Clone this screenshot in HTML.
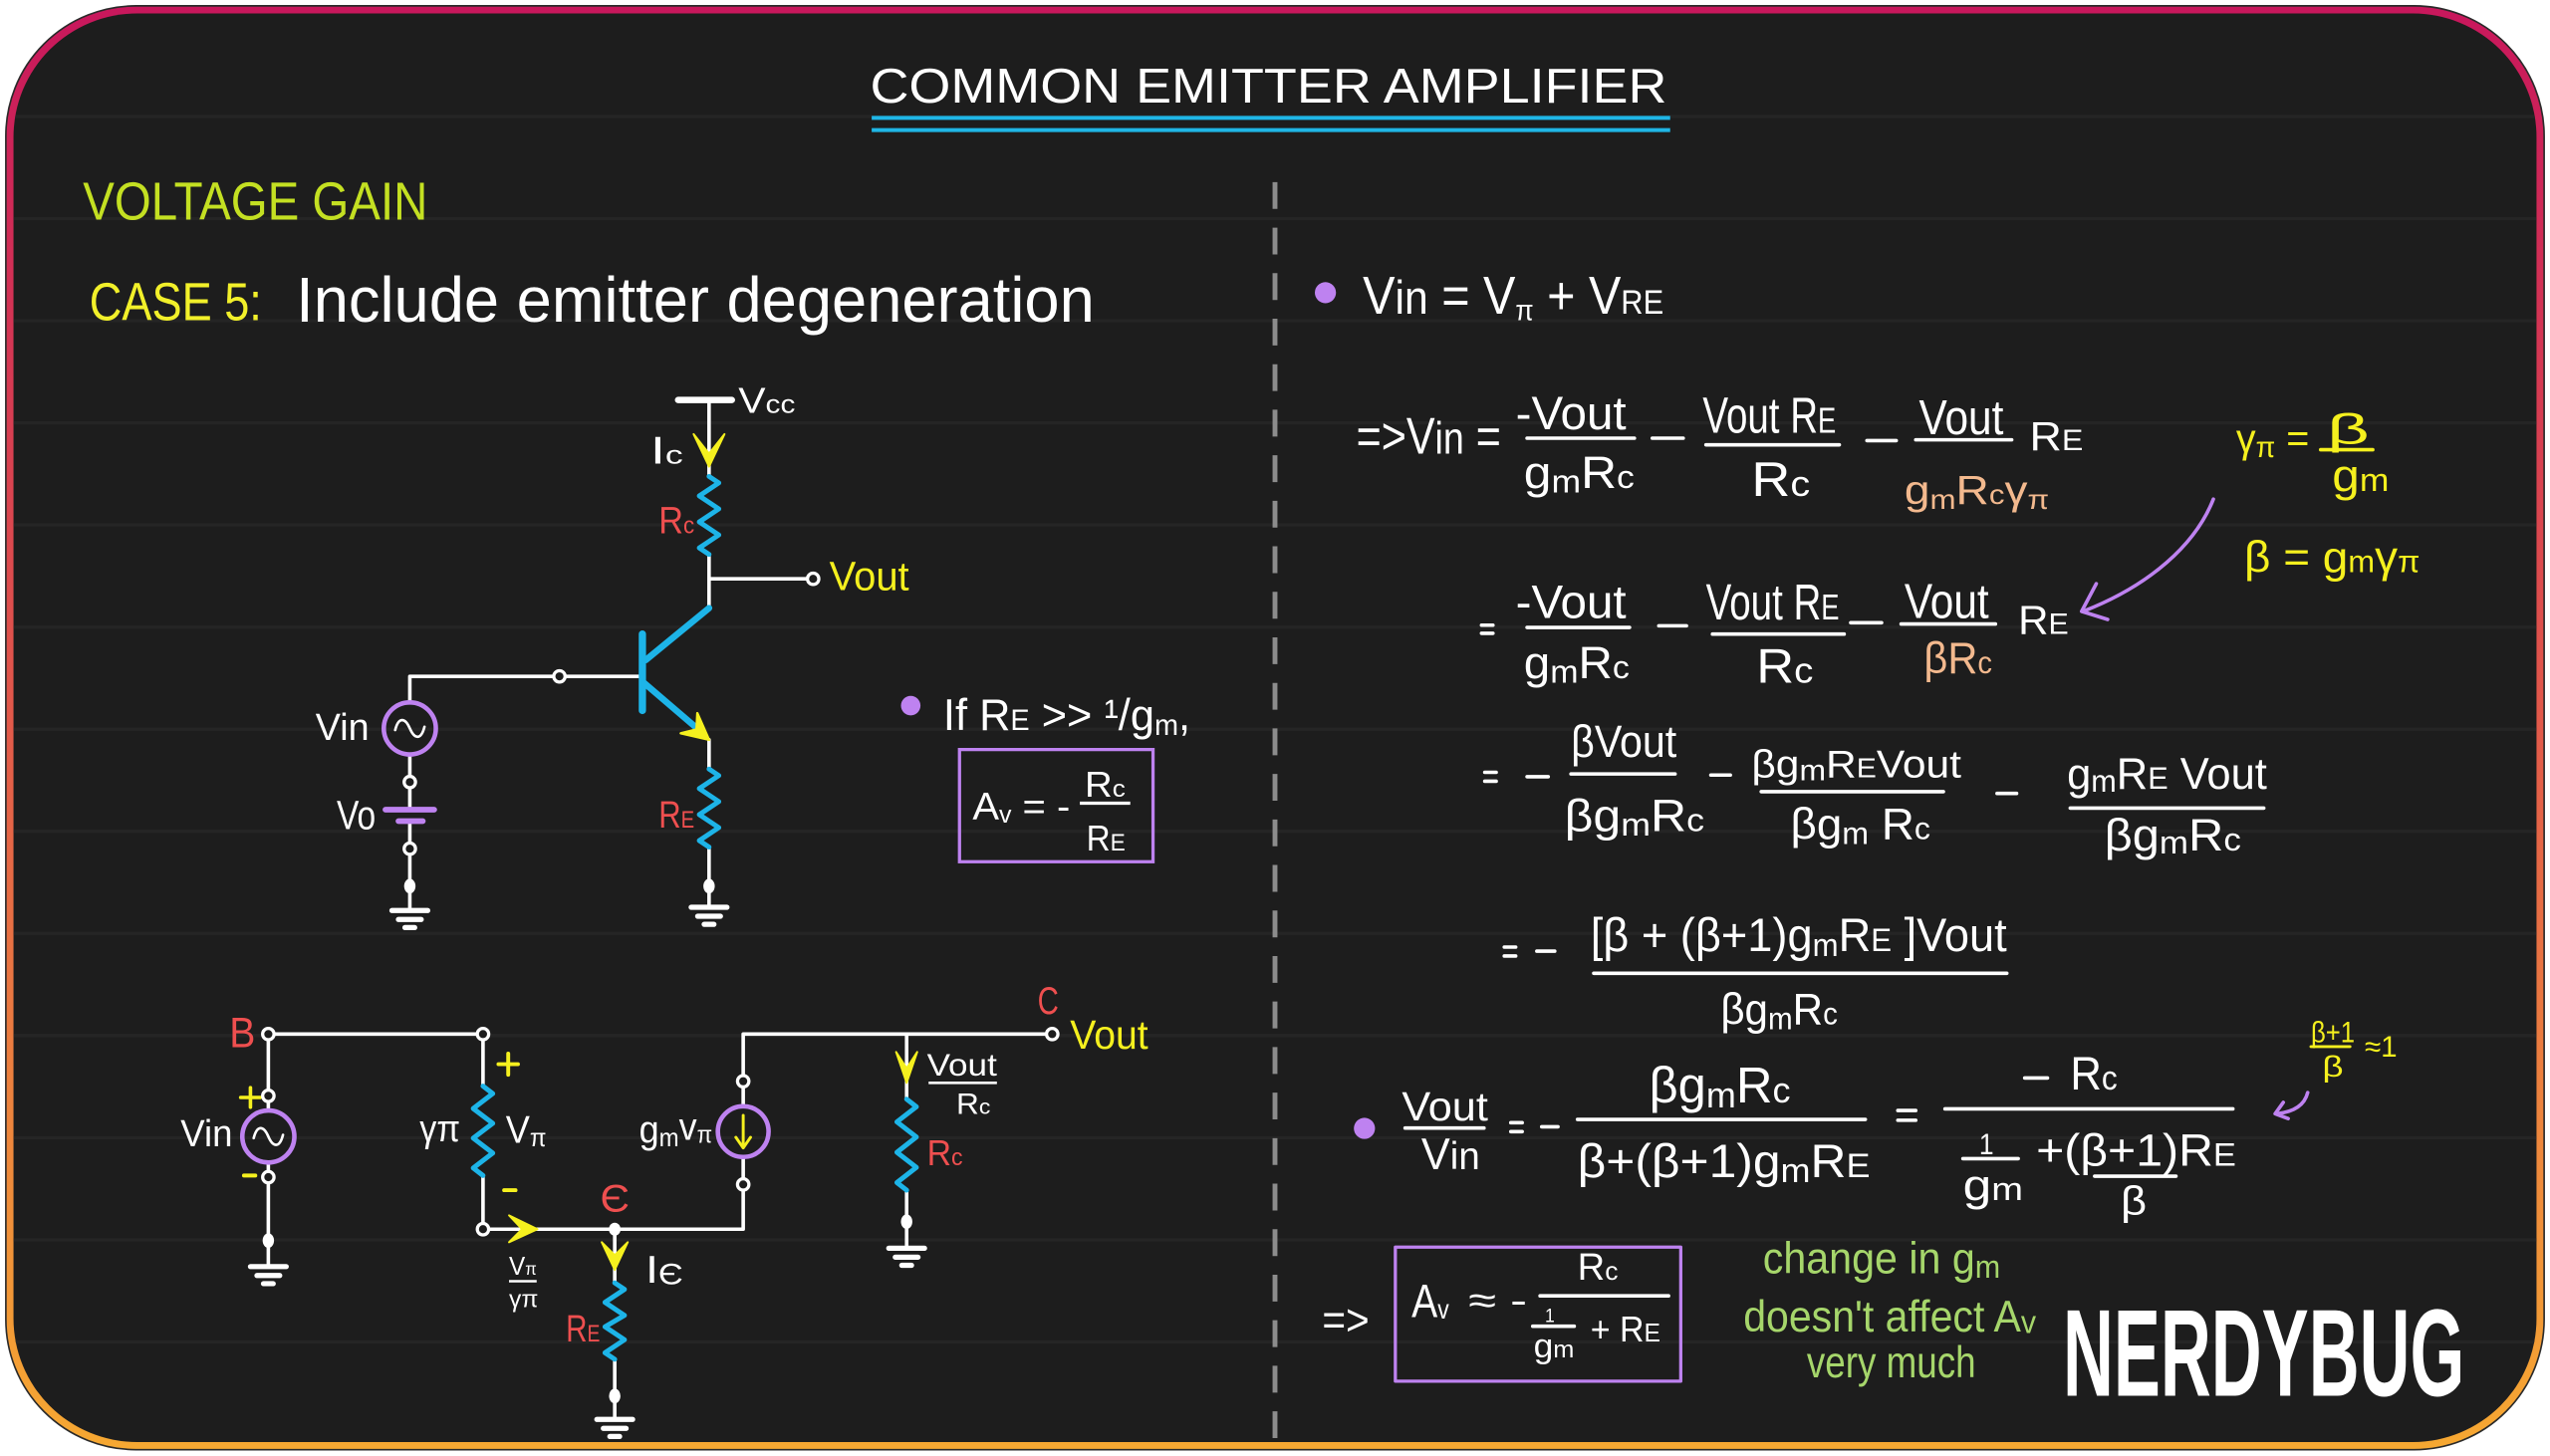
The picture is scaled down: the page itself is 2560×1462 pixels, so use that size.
<!DOCTYPE html>
<html><head><meta charset="utf-8"><style>
html,body{margin:0;padding:0;background:#fff;}
svg{display:block;}
text{font-family:"Liberation Sans",sans-serif;}
</style></head><body>
<svg width="2560" height="1462" viewBox="0 0 1568 895.5" preserveAspectRatio="none" xmlns="http://www.w3.org/2000/svg">
<defs>
<linearGradient id="bd" x1="0" y1="0" x2="0" y2="1">
<stop offset="0" stop-color="#c8175c"/>
<stop offset="0.5" stop-color="#e25a4a"/>
<stop offset="1" stop-color="#f6a832"/>
</linearGradient>
<clipPath id="inner"><rect x="8.3" y="8.3" width="1551.4" height="878.6" rx="76"/></clipPath>
</defs>
<rect x="0" y="0" width="1568" height="895.5" fill="#fff"/>
<rect x="3.6" y="3.6" width="1560.8" height="888" rx="80" fill="url(#bd)" stroke="#2a2a2a" stroke-width="1"/>
<rect x="8.3" y="8.3" width="1551.4" height="878.6" rx="76" fill="#1d1d1d"/>
<g clip-path="url(#inner)" stroke="#252525" stroke-width="2">
<line x1="0" y1="71.7" x2="1568" y2="71.7"/><line x1="0" y1="134.5" x2="1568" y2="134.5"/>
<line x1="0" y1="197.3" x2="1568" y2="197.3"/><line x1="0" y1="260.1" x2="1568" y2="260.1"/>
<line x1="0" y1="322.9" x2="1568" y2="322.9"/><line x1="0" y1="385.7" x2="1568" y2="385.7"/>
<line x1="0" y1="448.5" x2="1568" y2="448.5"/><line x1="0" y1="511.3" x2="1568" y2="511.3"/>
<line x1="0" y1="574.1" x2="1568" y2="574.1"/><line x1="0" y1="636.9" x2="1568" y2="636.9"/>
<line x1="0" y1="699.7" x2="1568" y2="699.7"/><line x1="0" y1="762.5" x2="1568" y2="762.5"/>
<line x1="0" y1="825.3" x2="1568" y2="825.3"/>
</g>

<!-- divider -->
<line x1="784" y1="112" x2="784" y2="886" stroke="#8c8c8c" stroke-width="3" stroke-dasharray="16.5 11.5"/>

<!-- Title -->
<text x="535" y="63" font-size="30" textLength="490" lengthAdjust="spacingAndGlyphs" fill="#fff">COMMON EMITTER AMPLIFIER</text>
<line x1="536" y1="72.5" x2="1027" y2="72.5" stroke="#1fb6e6" stroke-width="2.4"/>
<line x1="536" y1="80" x2="1027" y2="80" stroke="#1fb6e6" stroke-width="2.4"/>

<text x="51" y="135" font-size="33" textLength="212" lengthAdjust="spacingAndGlyphs" fill="#c4e022">VOLTAGE GAIN</text>
<text x="55" y="197" font-size="33" textLength="106" lengthAdjust="spacingAndGlyphs" fill="#f2f02a">CASE 5:</text>
<text x="182" y="198" font-size="39" textLength="491" lengthAdjust="spacingAndGlyphs" fill="#fff">Include emitter degeneration</text>

<!-- ===== Circuit 1 ===== -->
<g stroke="#fff" stroke-width="2.2" fill="none" stroke-linecap="round" stroke-linejoin="round">
<line x1="417" y1="246" x2="450" y2="246" stroke-width="4"/>
<path d="M436 246V293 M436 341V374 M436 356H496.5 M436 455V473 M436 521V558"/>
<path d="M395 416H347.5 M340.5 416H252V432 M252 464V477.5 M252 484.5V498 M252 505V518.5 M252 525.5V560"/>
<!-- grounds -->
<path d="M425 558H447 M429 563.5H443 M433 568.5H439" stroke-width="3.2"/>
<path d="M241 560H263 M245 565.5H259 M249 570.5H255" stroke-width="3.2"/>
<!-- tilde -->
<path d="M243 449 C245 441 249 441 252 448 S259 455 261 447" stroke-width="1.6"/>
</g>
<g fill="#1d1d1d" stroke="#fff" stroke-width="2">
<circle cx="500" cy="356" r="3.5"/>
<circle cx="344" cy="416" r="3.5"/>
<circle cx="252" cy="481" r="3.5"/>
<circle cx="252" cy="522" r="3.5"/>
</g>
<ellipse cx="436" cy="545" rx="3.5" ry="4.5" fill="#fff"/>
<ellipse cx="252" cy="545" rx="3.5" ry="4.5" fill="#fff"/>
<!-- resistors -->
<g stroke="#1db4e8" stroke-width="3" fill="none" stroke-linejoin="round" stroke-linecap="round">
<polyline points="436,293 442,297 430,305 442,313 430,321 442,329 430,337 436,341"/>
<polyline points="436,473 442,477 430,485 442,493 430,501 442,509 430,517 436,521"/>
<line x1="436" y1="374" x2="397" y2="406" stroke-width="4"/>
<line x1="395" y1="390" x2="395" y2="437" stroke-width="4.5"/>
<line x1="396" y1="420" x2="431" y2="450" stroke-width="4"/>
</g>
<path d="M428.8 438.6 L436 455 L418.6 451 L428.3 448.6 Z" fill="#f5f01e" stroke="#f5f01e" stroke-width="1.5" stroke-linejoin="round"/>
<path d="M426.5 267 L436 287 L445.5 267 L436 279 Z" fill="#f5f01e" stroke="#f5f01e" stroke-width="1.2" stroke-linejoin="round"/>
<!-- source + battery -->
<circle cx="252" cy="448" r="16" fill="none" stroke="#be82f0" stroke-width="2.8"/>
<line x1="237" y1="498" x2="267" y2="498" stroke="#be82f0" stroke-width="3.5" stroke-linecap="round"/>
<line x1="245" y1="505" x2="260" y2="505" stroke="#be82f0" stroke-width="3.5" stroke-linecap="round"/>
<!-- labels -->
<text x="454" y="254" font-size="22" textLength="35" lengthAdjust="spacingAndGlyphs" fill="#fff">V<tspan font-size="16">cc</tspan></text>
<text x="400" y="285" font-size="24" textLength="20" lengthAdjust="spacingAndGlyphs" fill="#fff">I<tspan font-size="16">c</tspan></text>
<text x="405" y="328" font-size="23" textLength="22" lengthAdjust="spacingAndGlyphs" fill="#ee4f4f">R<tspan font-size="15">c</tspan></text>
<text x="510" y="363" font-size="25" textLength="49" lengthAdjust="spacingAndGlyphs" fill="#f5f01e">Vout</text>
<text x="405" y="509" font-size="23" textLength="22" lengthAdjust="spacingAndGlyphs" fill="#ee4f4f">R<tspan font-size="15">E</tspan></text>
<text x="194" y="455" font-size="23" textLength="33" lengthAdjust="spacingAndGlyphs" fill="#fff">Vin</text>
<text x="207" y="510" font-size="25" textLength="24" lengthAdjust="spacingAndGlyphs" fill="#fff">Vo</text>

<!-- If RE >> 1/gm -->
<circle cx="560" cy="434" r="6" fill="#be82f0"/>
<text x="580" y="449" font-size="27" textLength="152" lengthAdjust="spacingAndGlyphs" fill="#fff">If  R<tspan font-size="18">E</tspan> &gt;&gt; ¹/g<tspan font-size="18" dy="3">m</tspan><tspan dy="-3">,</tspan></text>
<rect x="590" y="461" width="119" height="69" fill="none" stroke="#be82f0" stroke-width="2"/>
<text x="598" y="504" font-size="24" textLength="60" lengthAdjust="spacingAndGlyphs" fill="#fff">A<tspan font-size="15" dy="2">v</tspan><tspan dy="-2"> = -</tspan></text>
<text x="667" y="490" font-size="22" textLength="25" lengthAdjust="spacingAndGlyphs" fill="#fff">R<tspan font-size="15">c</tspan></text>
<line x1="664" y1="494" x2="695" y2="494" stroke="#fff" stroke-width="2"/>
<text x="668" y="523" font-size="22" textLength="24" lengthAdjust="spacingAndGlyphs" fill="#fff">R<tspan font-size="15">E</tspan></text>

<!-- ===== Circuit 2 ===== -->
<g stroke="#fff" stroke-width="2.2" fill="none" stroke-linecap="round" stroke-linejoin="round">
<path d="M169 636H293.5 M165 639.5V670.5 M165 677.5V683 M165 715V720.5 M165 727.5V779"/>
<path d="M297 639.5V668 M297 723V752.5 M300.5 756H457V732 M457 725V711.5 M457 680.5V668.5 M457 661V636H643.5"/>
<path d="M378 756V789 M378 836V873 M557.5 636V676 M557.5 732V767.7"/>
<path d="M154 669V681 M148 675H160" stroke="#f5f01e" stroke-width="2.2"/>
<path d="M150 723H157" stroke="#f5f01e" stroke-width="2.4"/>
<path d="M312.5 648V661 M306.5 654.5H318.5" stroke="#f5f01e" stroke-width="2.4"/>
<path d="M310 732H317" stroke="#f5f01e" stroke-width="2.4"/>
<path d="M154 779H176 M158 784.5H172 M162 789.5H168" stroke-width="3.2"/>
<path d="M367 873H389 M371 878.5H385 M375 883.5H381" stroke-width="3.2"/>
<path d="M546.5 767.7H568.5 M550.5 773.2H564.5 M554.5 778.2H560.5" stroke-width="3.2"/>
<path d="M156 700 C158 692 162 692 165 699 S172 706 174 698" stroke-width="1.6"/>
</g>
<g fill="#1d1d1d" stroke="#fff" stroke-width="2">
<circle cx="165" cy="636" r="3.5"/>
<circle cx="297" cy="636" r="3.5"/>
<circle cx="165" cy="674" r="3.5"/>
<circle cx="165" cy="724" r="3.5"/>
<circle cx="297" cy="756" r="3.5"/>
<circle cx="457" cy="665" r="3.5"/>
<circle cx="457" cy="728.5" r="3.5"/>
<circle cx="647" cy="636" r="3.5"/>
</g>
<ellipse cx="165" cy="763" rx="3.5" ry="4.5" fill="#fff"/>
<ellipse cx="378" cy="756" rx="3.6" ry="4" fill="#fff"/>
<ellipse cx="378" cy="858.6" rx="3.5" ry="4.5" fill="#fff"/>
<ellipse cx="557.5" cy="751.4" rx="3.5" ry="4.5" fill="#fff"/>
<g stroke="#1db4e8" stroke-width="3" fill="none" stroke-linejoin="round" stroke-linecap="round">
<polyline points="297,668 303,672.6 291,681.8 303,690.9 291,700 303,709.2 291,718.4 297,723"/>
<polyline points="378,789 384,793 372,801 384,809 372,816 384,824 372,832 378,836"/>
<polyline points="557.5,676 563.5,680.7 551.5,690 563.5,699.3 551.5,708.7 563.5,718 551.5,727.3 557.5,732"/>
</g>
<circle cx="165" cy="699" r="16" fill="none" stroke="#be82f0" stroke-width="2.8"/>
<circle cx="457" cy="696" r="15.6" fill="none" stroke="#be82f0" stroke-width="2.8"/>
<g stroke="#f5f01e" fill="#f5f01e" stroke-linejoin="round" stroke-width="1.2">
<path d="M457 686V705 M452.5 699.5L457 706L461.5 699.5" fill="none" stroke-width="1.8" stroke-linecap="round"/>
<path d="M313 747.5 L330.5 756 L313 764 L321 756 Z"/>
<path d="M370 764 L378 781 L386 764 L378 772 Z"/>
<path d="M551 647 L557.5 666 L564 647 L557.5 657 Z"/>
</g>
<text x="141" y="644" font-size="26" textLength="16" lengthAdjust="spacingAndGlyphs" fill="#ee4f4f">B</text>
<text x="111" y="705" font-size="23" textLength="32" lengthAdjust="spacingAndGlyphs" fill="#fff">Vin</text>
<text x="258" y="702" font-size="23" textLength="25" lengthAdjust="spacingAndGlyphs" fill="#fff">γπ</text>
<text x="311" y="703" font-size="24" textLength="25" lengthAdjust="spacingAndGlyphs" fill="#fff">V<tspan font-size="16" dy="2">π</tspan></text>
<text x="313" y="784" font-size="16" textLength="17" lengthAdjust="spacingAndGlyphs" fill="#fff">V<tspan font-size="11">π</tspan></text>
<line x1="313" y1="788" x2="330" y2="788" stroke="#fff" stroke-width="1.5"/>
<text x="313" y="804" font-size="15" textLength="18" lengthAdjust="spacingAndGlyphs" fill="#fff">γπ</text>
<text x="369" y="745" font-size="24" textLength="18" lengthAdjust="spacingAndGlyphs" fill="#ee4f4f">Є</text>
<text x="397" y="789" font-size="24" textLength="23" lengthAdjust="spacingAndGlyphs" fill="#fff">I<tspan font-size="18" dy="1">Є</tspan></text>
<text x="348" y="825" font-size="23" textLength="21" lengthAdjust="spacingAndGlyphs" fill="#ee4f4f">R<tspan font-size="15">E</tspan></text>
<text x="393" y="703" font-size="24" textLength="45" lengthAdjust="spacingAndGlyphs" fill="#fff">g<tspan font-size="16" dy="2">m</tspan><tspan dy="-4">v</tspan><tspan font-size="15" dy="2">π</tspan></text>
<text x="570" y="661.5" font-size="19" textLength="43" lengthAdjust="spacingAndGlyphs" fill="#fff">Vout</text>
<line x1="571" y1="666" x2="613" y2="666" stroke="#fff" stroke-width="1.6"/>
<text x="588" y="685" font-size="18" textLength="21" lengthAdjust="spacingAndGlyphs" fill="#fff">R<tspan font-size="13">c</tspan></text>
<text x="570" y="716.6" font-size="22" textLength="22" lengthAdjust="spacingAndGlyphs" fill="#ee4f4f">R<tspan font-size="15">c</tspan></text>
<text x="638" y="623.5" font-size="24" textLength="13" lengthAdjust="spacingAndGlyphs" fill="#ee4f4f">C</text>
<text x="658" y="645" font-size="25" textLength="48" lengthAdjust="spacingAndGlyphs" fill="#f5f01e">Vout</text>

<!-- ===== Right side equations ===== -->
<g fill="#fff">
<circle cx="815" cy="180" r="6.5" fill="#be82f0"/>
<text x="838" y="193" font-size="33" textLength="185" lengthAdjust="spacingAndGlyphs">V<tspan font-size="29">in</tspan> = V<tspan font-size="18" dy="4">π</tspan><tspan dy="-4"> + V</tspan><tspan font-size="21">RE</tspan></text>

<!-- line 2 -->
<text x="834" y="279" font-size="32" textLength="89" lengthAdjust="spacingAndGlyphs">=&gt;V<tspan font-size="28">in</tspan> =</text>
<text x="932" y="264" font-size="29" textLength="68" lengthAdjust="spacingAndGlyphs">-Vout</text>
<text x="937" y="300" font-size="28" textLength="68" lengthAdjust="spacingAndGlyphs">g<tspan font-size="20" dy="3">m</tspan><tspan dy="-3">R</tspan><tspan font-size="20">c</tspan></text>
<text x="1047" y="266" font-size="31" textLength="82" lengthAdjust="spacingAndGlyphs">Vout R<tspan font-size="22">E</tspan></text>
<text x="1077" y="305" font-size="30" textLength="36" lengthAdjust="spacingAndGlyphs">R<tspan font-size="22">c</tspan></text>
<text x="1180" y="267" font-size="30" textLength="52" lengthAdjust="spacingAndGlyphs">Vout</text>
<text x="1171" y="310" font-size="25" textLength="89" lengthAdjust="spacingAndGlyphs" fill="#f3b98e">g<tspan font-size="17" dy="3">m</tspan><tspan dy="-3">R</tspan><tspan font-size="17">c</tspan>γ<tspan font-size="17" dy="3">π</tspan></text>
<text x="1248" y="277" font-size="25" textLength="33" lengthAdjust="spacingAndGlyphs">R<tspan font-size="18">E</tspan></text>

<!-- yellow notes -->
<g fill="#f5f01e">
<text x="1375" y="278" font-size="25" textLength="45" lengthAdjust="spacingAndGlyphs">γ<tspan font-size="18" dy="3">π</tspan><tspan dy="-3"> =</tspan></text>
<text x="1431" y="273" font-size="26" textLength="26" lengthAdjust="spacingAndGlyphs">β</text>
<text x="1434" y="302" font-size="28" textLength="35" lengthAdjust="spacingAndGlyphs">g<tspan font-size="20">m</tspan></text>
<text x="1380" y="352" font-size="27" textLength="108" lengthAdjust="spacingAndGlyphs">β = g<tspan font-size="19">m</tspan>γ<tspan font-size="19">π</tspan></text>
<text x="1421" y="641" font-size="18" textLength="27" lengthAdjust="spacingAndGlyphs">β+1</text>
<text x="1428" y="662" font-size="18" textLength="13" lengthAdjust="spacingAndGlyphs">β</text>
<text x="1454" y="650" font-size="18" textLength="20" lengthAdjust="spacingAndGlyphs">≈1</text>
</g>

<!-- line 3 -->
<text x="932" y="380" font-size="29" textLength="68" lengthAdjust="spacingAndGlyphs">-Vout</text>
<text x="937" y="417" font-size="28" textLength="65" lengthAdjust="spacingAndGlyphs">g<tspan font-size="20" dy="3">m</tspan><tspan dy="-3">R</tspan><tspan font-size="20">c</tspan></text>
<text x="1049" y="381" font-size="31" textLength="82" lengthAdjust="spacingAndGlyphs">Vout R<tspan font-size="22">E</tspan></text>
<text x="1080" y="420" font-size="30" textLength="35" lengthAdjust="spacingAndGlyphs">R<tspan font-size="22">c</tspan></text>
<text x="1171" y="380" font-size="30" textLength="52" lengthAdjust="spacingAndGlyphs">Vout</text>
<text x="1183" y="414" font-size="27" textLength="42" lengthAdjust="spacingAndGlyphs" fill="#f3b98e">βR<tspan font-size="19">c</tspan></text>
<text x="1241" y="390" font-size="25" textLength="31" lengthAdjust="spacingAndGlyphs">R<tspan font-size="18">E</tspan></text>

<!-- line 4 -->
<text x="966" y="465.5" font-size="28" textLength="65" lengthAdjust="spacingAndGlyphs">βVout</text>
<text x="962" y="511" font-size="28" textLength="86" lengthAdjust="spacingAndGlyphs">βg<tspan font-size="20" dy="3">m</tspan><tspan dy="-3">R</tspan><tspan font-size="20">c</tspan></text>
<text x="1077" y="478" font-size="24" textLength="129" lengthAdjust="spacingAndGlyphs">βg<tspan font-size="18" dy="2">m</tspan><tspan dy="-2">R</tspan><tspan font-size="17">E</tspan>Vout</text>
<text x="1101" y="516" font-size="27" textLength="86" lengthAdjust="spacingAndGlyphs">βg<tspan font-size="19" dy="3">m</tspan><tspan dy="-3"> R</tspan><tspan font-size="19">c</tspan></text>
<text x="1271" y="485" font-size="27" textLength="123" lengthAdjust="spacingAndGlyphs">g<tspan font-size="19" dy="2">m</tspan><tspan dy="-2">R</tspan><tspan font-size="19">E</tspan> Vout</text>
<text x="1294" y="523" font-size="28" textLength="84" lengthAdjust="spacingAndGlyphs">βg<tspan font-size="20" dy="2">m</tspan><tspan dy="-2">R</tspan><tspan font-size="20">c</tspan></text>

<!-- line 5 -->
<text x="978" y="585" font-size="29" textLength="256" lengthAdjust="spacingAndGlyphs">[β + (β+1)g<tspan font-size="20" dy="3">m</tspan><tspan dy="-3">R</tspan><tspan font-size="20">E</tspan> ]Vout</text>
<text x="1058" y="630" font-size="27" textLength="72" lengthAdjust="spacingAndGlyphs">βg<tspan font-size="19" dy="3">m</tspan><tspan dy="-3">R</tspan><tspan font-size="19">c</tspan></text>

<!-- line 6 -->
<circle cx="839" cy="694" r="6.5" fill="#be82f0"/>
<text x="862" y="689" font-size="25" textLength="53" lengthAdjust="spacingAndGlyphs">Vout</text>
<text x="874" y="719" font-size="27" textLength="36" lengthAdjust="spacingAndGlyphs">V<tspan font-size="24">in</tspan></text>
<text x="1014" y="678" font-size="31" textLength="87" lengthAdjust="spacingAndGlyphs">βg<tspan font-size="22" dy="3">m</tspan><tspan dy="-3">R</tspan><tspan font-size="22">c</tspan></text>
<text x="970" y="724" font-size="29" textLength="180" lengthAdjust="spacingAndGlyphs">β+(β+1)g<tspan font-size="21" dy="3">m</tspan><tspan dy="-3">R</tspan><tspan font-size="21">E</tspan></text>
<text x="1273" y="670" font-size="29" textLength="29" lengthAdjust="spacingAndGlyphs">R<tspan font-size="21">c</tspan></text>
<text x="1217" y="710" font-size="18" textLength="9" lengthAdjust="spacingAndGlyphs">1</text>
<text x="1207" y="738" font-size="27" textLength="37" lengthAdjust="spacingAndGlyphs">g<tspan font-size="20">m</tspan></text>
<text x="1252" y="717" font-size="28" textLength="123" lengthAdjust="spacingAndGlyphs">+(β+1)R<tspan font-size="20">E</tspan></text>
<text x="1304" y="747" font-size="25" textLength="16" lengthAdjust="spacingAndGlyphs">β</text>

<!-- line 7 -->
<text x="813" y="821" font-size="27" textLength="29" lengthAdjust="spacingAndGlyphs">=&gt;</text>
<text x="868" y="810" font-size="29" textLength="23" lengthAdjust="spacingAndGlyphs">A<tspan font-size="17" dy="1">v</tspan></text>
<text x="903" y="808" font-size="24" textLength="36" lengthAdjust="spacingAndGlyphs">≈ -</text>
<text x="970" y="787" font-size="23" textLength="25" lengthAdjust="spacingAndGlyphs">R<tspan font-size="16">c</tspan></text>
<text x="950" y="813" font-size="12" textLength="6" lengthAdjust="spacingAndGlyphs">1</text>
<text x="943" y="835" font-size="21" textLength="25" lengthAdjust="spacingAndGlyphs">g<tspan font-size="15">m</tspan></text>
<text x="978" y="825" font-size="22" textLength="43" lengthAdjust="spacingAndGlyphs">+ R<tspan font-size="16">E</tspan></text>

<g fill="#a6d66b">
<text x="1084" y="783" font-size="27" textLength="146" lengthAdjust="spacingAndGlyphs">change in g<tspan font-size="20" dy="3">m</tspan></text>
<text x="1072" y="819" font-size="27" textLength="180" lengthAdjust="spacingAndGlyphs">doesn't affect A<tspan font-size="20" dy="1">v</tspan></text>
<text x="1111" y="847" font-size="27" textLength="104" lengthAdjust="spacingAndGlyphs">very much</text>
</g>
<text x="1268.5" y="858.6" font-size="76" font-weight="bold" textLength="247" lengthAdjust="spacingAndGlyphs">NERDYBUG</text>
</g>

<!-- fraction bars & minus signs -->
<g stroke="#fff" stroke-width="2.2" stroke-linecap="round" fill="none">
<path d="M939 269.5H1005 M1016 269.5H1035 M1049 273.6H1131 M1148 271H1166 M1178 270.5H1237"/>
<path d="M911 384.5H918 M911 389.5H918 M939 385.9H1002 M1020 384.9H1037 M1053 390H1134 M1138 383H1157 M1169 383.8H1227"/>
<path d="M913 475H920 M913 480.5H920 M939 477.7H952 M966 476H1030 M1052 476.7H1064 M1083 486.9H1195 M1228 488H1240 M1273 497H1392"/>
<path d="M925 582.5H932 M925 588H932 M945 585H956 M980 598.6H1234"/>
<path d="M864 693.8H912.5 M929 690.5H936 M929 696H936 M948 693H958 M970 688.5H1147 M1167 683H1178 M1167 689H1178 M1245 663H1259 M1196 682H1373 M1207 712.6H1241 M1288 723.4H1338"/>
<path d="M947 797H1026 M942.5 815.7H968"/>
</g>
<line x1="1427" y1="276.6" x2="1459" y2="276.6" stroke="#f5f01e" stroke-width="2.2" stroke-linecap="round"/>
<line x1="1421" y1="643.7" x2="1445" y2="643.7" stroke="#f5f01e" stroke-width="1.8" stroke-linecap="round"/>
<!-- purple arrows & box -->
<g stroke="#be82f0" stroke-width="2.2" fill="none" stroke-linecap="round" stroke-linejoin="round">
<path d="M1361 307 C1350 335 1322 360 1281 376"/>
<path d="M1289 359 L1280 376 L1296 381"/>
<path d="M1419 672 C1417 680 1410 684 1400 685"/>
<path d="M1404 678 L1399 685 L1407 688"/>
<rect x="858" y="767" width="175.5" height="82.5" stroke-width="2"/>
</g>
</svg>
</body></html>
